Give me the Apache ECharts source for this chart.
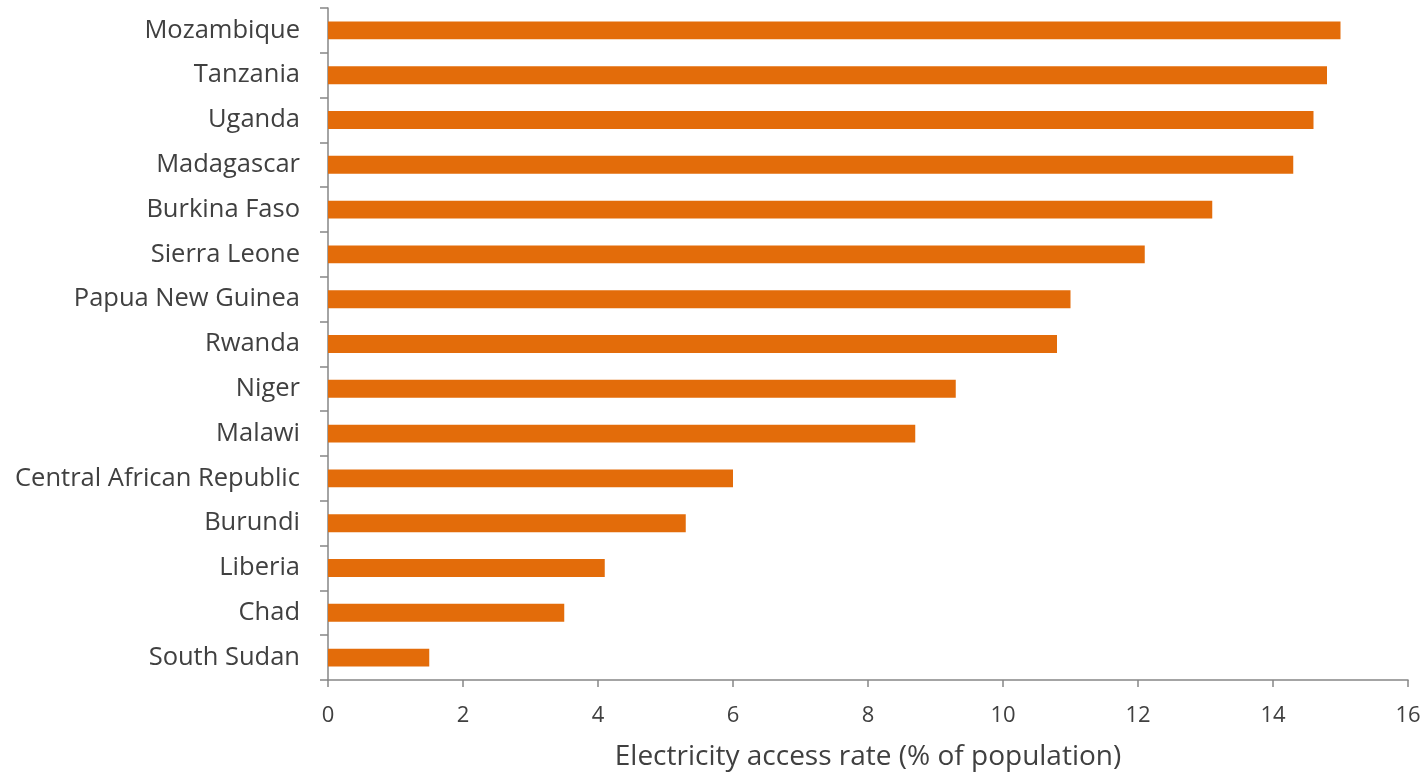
<!DOCTYPE html>
<html><head><meta charset="utf-8">
<script src="https://cdn.jsdelivr.net/npm/echarts@6/dist/echarts.min.js"></script>
<style>html,body{margin:0;padding:0;background:#fff}#c{width:1426px;height:774px}</style>
</head><body><div id="c"></div>
<script>
const countries = ["Mozambique","Tanzania","Uganda","Madagascar","Burkina Faso","Sierra Leone","Papua New Guinea","Rwanda","Niger","Malawi","Central African Republic","Burundi","Liberia","Chad","South Sudan"];
const accessRate = [15.0,14.8,14.6,14.3,13.1,12.1,11.0,10.8,9.3,8.7,6.0,5.3,4.1,3.5,1.5];
const xTitle = "Electricity access rate (% of population)";

const chart = echarts.init(document.getElementById('c'));
chart.setOption({
  animation:false,
  grid:{left:328,right:18,top:8,bottom:94,containLabel:false,outerBoundsMode:'none'},
  xAxis:{type:'value',min:0,max:16,interval:2,
    name:xTitle,nameLocation:'middle',nameGap:63,nameMoveOverlap:false,
    nameTextStyle:{fontFamily:'Open Sans',fontSize:28,color:'#404040'},
    axisLine:{show:true,lineStyle:{color:'#868686',width:1.5}},
    axisTick:{show:true,length:7,lineStyle:{color:'#868686',width:1.5}},
    axisLabel:{fontFamily:'Open Sans',fontSize:22,color:'#404040',margin:25},
    splitLine:{show:false}},
  yAxis:{type:'category',data:countries,inverse:true,
    axisLine:{show:true,lineStyle:{color:'#868686',width:1.5}},
    axisTick:{show:true,length:8,lineStyle:{color:'#868686',width:1.5}},
    axisLabel:{fontFamily:'Open Sans',fontSize:25.5,color:'#404040',margin:28}},
  series:[{type:'bar',data:accessRate,barCategoryGap:'60%',
    itemStyle:{color:'#E36C0A'}}]
});
</script></body></html>
